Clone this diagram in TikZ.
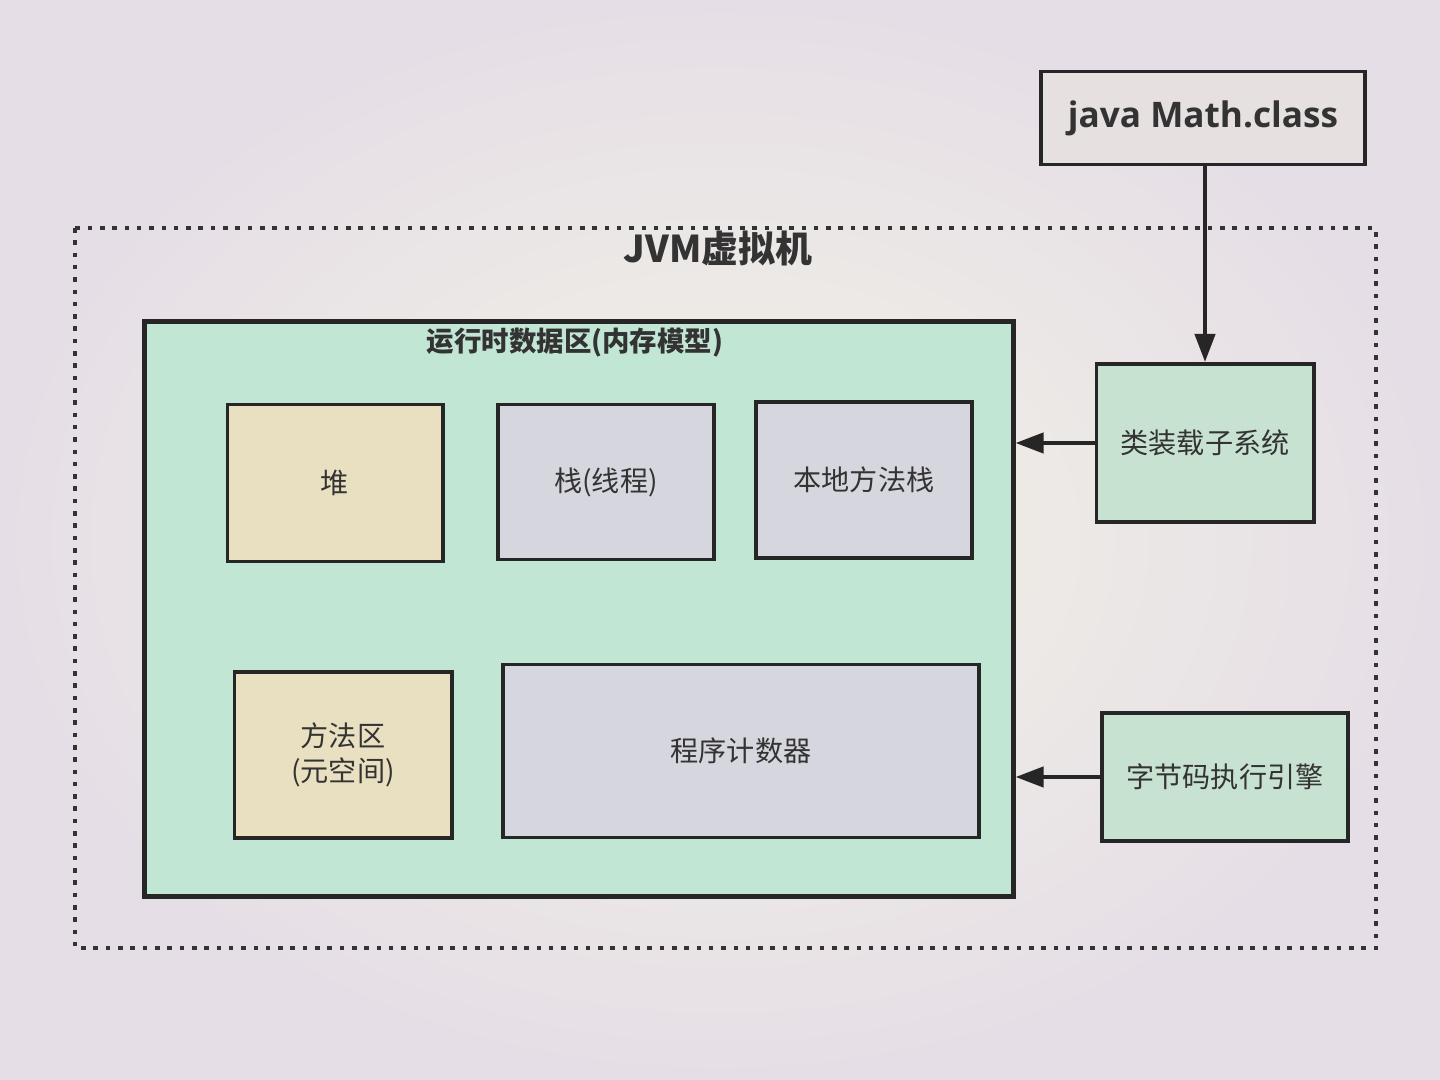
\documentclass[tikz,border=0pt]{standalone}
\usepackage{fontspec}
\setmainfont{Noto Sans CJK SC}
\newfontfamily\latinfont{Open Sans}
\usetikzlibrary{arrows.meta}
\definecolor{bgin}{HTML}{F2F3E6}
\definecolor{bgout}{HTML}{E6DEE6}
\definecolor{mint}{HTML}{C2E6D4}
\definecolor{sage}{HTML}{C8E2D2}
\definecolor{sand}{HTML}{E8E0C0}
\definecolor{slate}{HTML}{D6D6DE}
\definecolor{pale}{HTML}{E6E0E0}
\definecolor{ink}{HTML}{333333}
\begin{document}
\begin{tikzpicture}[x=0.01cm, y=-0.01cm, line width=1.1pt,
  box/.style={draw=black!85, text=ink, font=\fontsize{8}{10}\selectfont, align=center, inner sep=0pt},
  arr/.style={-{Triangle[length=0.28cm, width=0.2cm]}, line width=1.2pt, draw=black!85}]
\shade [inner color=bgin, outer color=bgout] (0,0) rectangle (1440,1080);
\useasboundingbox (0,0) rectangle (1440,1080);
% outer jvm frame
\draw [black!80, line width=1.3pt, dash pattern=on 1.3pt off 2.2pt] (75,228) rectangle (1376,948);
\node [text=ink, font=\bfseries\fontsize{10.5}{12}\selectfont] (jvmtitle) at (718,248) {JVM虚拟机};
\node [box, fill=pale, minimum width=3.24cm, minimum height=0.93cm, font=\latinfont\bfseries\fontsize{10}{12}\selectfont] (math) at (1203,118) {java Math.class};
% runtime data area
\node [box, fill=mint, line width=1.3pt, minimum width=8.68cm, minimum height=5.75cm] (runtime) at (579,609) {};
\node [text=ink, font=\bfseries\fontsize{7.8}{10}\selectfont] (rttitle) at (575,343) {运行时数据区(内存模型)};
\node [box, fill=sand, minimum width=2.15cm, minimum height=1.57cm] (heap) at (335,483) {堆};
\node [box, fill=slate, minimum width=2.16cm, minimum height=1.55cm] (stack) at (606,482) {栈(线程)};
\node [box, fill=slate, minimum width=2.16cm, minimum height=1.56cm] (native) at (864,480) {本地方法栈};
\node [box, fill=sand, minimum width=2.17cm, minimum height=1.66cm] (method) at (343,755) {方法区\\(元空间)};
\node [box, fill=slate, minimum width=4.76cm, minimum height=1.73cm] (pc) at (741,751) {程序计数器};
% subsystems
\node [box, fill=sage, minimum width=2.17cm, minimum height=1.58cm] (loader) at (1205,443) {类装载子系统};
\node [box, fill=sage, minimum width=2.46cm, minimum height=1.28cm] (engine) at (1225,777) {字节码执行引擎};
\draw [arr] (loader.north |- math.south) -- (loader.north);
\draw [arr] (loader.west) -- (loader.west -| runtime.east);
\draw [arr] (engine.west) -- (engine.west -| runtime.east);
\end{tikzpicture}
\end{document}
